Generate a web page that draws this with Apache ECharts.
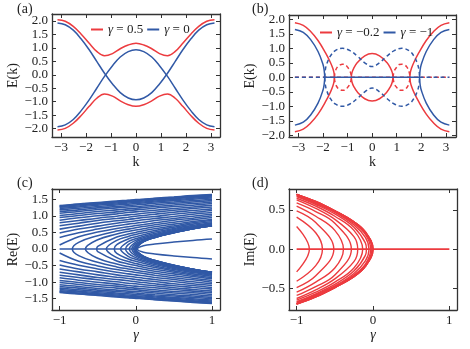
<!DOCTYPE html>
<html>
<head>
<meta charset="utf-8">
<script src="https://cdn.jsdelivr.net/npm/echarts@6/dist/echarts.min.js"></script>
<style>
  html, body { margin: 0; padding: 0; background: #fff; }
  #main { width: 470px; height: 349px; }
</style>
</head>
<body>
<div id="main"></div>
<script>
const SERIF = 'Liberation Serif';
const RED = '#ec3b3f';
const BLUE = '#3159a6';
const INK = '#222';

// ---------- (a) E(k), upper halves read at these k ----------
const kGrid = [-3.14, -2.83, -2.51, -2.20, -1.88, -1.57, -1.26, -0.94, -0.63, -0.31, 0,
               0.31, 0.63, 0.94, 1.26, 1.57, 1.88, 2.20, 2.51, 2.83, 3.14];
const aGamma0 = [-1.93, -1.86, -1.66, -1.34, -0.94, -0.50, -0.06, 0.34, 0.66, 0.86, 0.93,
                 0.86, 0.66, 0.34, -0.06, -0.50, -0.94, -1.34, -1.66, -1.86, -1.93];
const aGamma05 = [2.05, 1.99, 1.80, 1.52, 1.18, 0.87, 0.71, 0.79, 0.97, 1.11, 1.17,
                  1.11, 0.97, 0.79, 0.71, 0.87, 1.18, 1.52, 1.80, 1.99, 2.05];

// ---------- (b) E(k), [k, |E|] upper halves ----------
const bRedInner = [[-0.848, 0], [-0.82, 0.16], [-0.75, 0.31], [-0.6, 0.51], [-0.3, 0.74], [0, 0.82],
                   [0.3, 0.74], [0.6, 0.51], [0.75, 0.31], [0.82, 0.16], [0.848, 0]];
const bRedImL = [[-1.534, 0], [-1.5, 0.20], [-1.4, 0.37], [-1.3, 0.43], [-1.21, 0.45], [-1.1, 0.44],
                 [-1.0, 0.35], [-0.9, 0.22], [-0.848, 0]];
const bRedImR = [[0.848, 0], [0.9, 0.22], [1.0, 0.35], [1.1, 0.44], [1.21, 0.45], [1.3, 0.43],
                 [1.4, 0.37], [1.5, 0.20], [1.534, 0]];
const bRedOuterR = [[1.534, 0], [1.55, 0.15], [1.6, 0.31], [1.7, 0.52], [1.9, 0.85], [2.2, 1.27],
                    [2.5, 1.58], [2.8, 1.79], [3.14, 1.88]];
const bRedOuterL = [[-1.534, 0], [-1.55, 0.15], [-1.6, 0.31], [-1.7, 0.52], [-1.9, 0.85], [-2.2, 1.27],
                    [-2.5, 1.58], [-2.8, 1.79], [-3.14, 1.88]];
const bBlueOuterR = [[1.928, 0], [1.95, 0.24], [2.0, 0.45], [2.2, 0.89], [2.5, 1.30], [2.8, 1.55], [3.14, 1.65]];
const bBlueOuterL = [[-1.928, 0], [-1.95, 0.24], [-2.0, 0.45], [-2.2, 0.89], [-2.5, 1.30], [-2.8, 1.55], [-3.14, 1.65]];
const bBlueIm = [[-1.928, 0], [-1.9, 0.27], [-1.85, 0.45], [-1.7, 0.73], [-1.5, 0.92], [-1.21, 1.0],
                 [-0.9, 0.92], [-0.6, 0.73], [-0.3, 0.5], [0, 0.37], [0.3, 0.5], [0.6, 0.73],
                 [0.9, 0.92], [1.21, 1.0], [1.5, 0.92], [1.7, 0.73], [1.85, 0.45], [1.9, 0.27], [1.928, 0]];

// ---------- (c), (d) finite chain: |E| of each level read at these gamma ----------
const gGrid = [-1, -0.75, -0.5, -0.25, -0.1, 0, 0.1, 0.25, 0.5, 0.75, 1];
// gamma where a level turns from real (right) to imaginary (left); null = real everywhere
const levelVertex = [0, -0.0004, -0.002, -0.006, -0.014, -0.029, -0.052, -0.086, -0.135, -0.200,
                     -0.283, -0.387, -0.513, -0.662, -0.833,
                     null, null, null, null, null, null, null, null, null, null, null, null, null, null, null, null, null];
const levels = [
  [0.70, 0.61, 0.49, 0.35, 0.22, 0.00, 0.22, 0.35, 0.49, 0.61, 0.70],
  [0.70, 0.61, 0.49, 0.35, 0.22, 0.01, 0.22, 0.35, 0.49, 0.61, 0.70],
  [0.70, 0.61, 0.49, 0.35, 0.22, 0.03, 0.22, 0.35, 0.50, 0.61, 0.70],
  [0.70, 0.60, 0.49, 0.35, 0.21, 0.05, 0.23, 0.35, 0.50, 0.61, 0.70],
  [0.70, 0.60, 0.49, 0.34, 0.21, 0.08, 0.24, 0.36, 0.50, 0.61, 0.70],
  [0.69, 0.59, 0.48, 0.33, 0.19, 0.12, 0.25, 0.37, 0.51, 0.62, 0.71],
  [0.68, 0.58, 0.47, 0.31, 0.15, 0.16, 0.27, 0.38, 0.52, 0.63, 0.72],
  [0.67, 0.57, 0.45, 0.28, 0.08, 0.21, 0.30, 0.41, 0.54, 0.64, 0.73],
  [0.65, 0.55, 0.42, 0.24, 0.13, 0.26, 0.34, 0.43, 0.56, 0.66, 0.75],
  [0.63, 0.52, 0.38, 0.16, 0.22, 0.31, 0.38, 0.47, 0.59, 0.68, 0.77],
  [0.59, 0.48, 0.33, 0.13, 0.30, 0.37, 0.43, 0.51, 0.62, 0.71, 0.79],
  [0.55, 0.42, 0.24, 0.26, 0.38, 0.44, 0.49, 0.56, 0.66, 0.75, 0.82],
  [0.49, 0.34, 0.08, 0.36, 0.45, 0.50, 0.55, 0.61, 0.70, 0.79, 0.86],
  [0.41, 0.21, 0.28, 0.45, 0.53, 0.57, 0.61, 0.67, 0.75, 0.83, 0.90],
  [0.29, 0.20, 0.40, 0.54, 0.60, 0.64, 0.68, 0.73, 0.81, 0.88, 0.95],
  [0.12, 0.37, 0.51, 0.62, 0.67, 0.71, 0.74, 0.79, 0.87, 0.93, 1.00],
  [0.35, 0.49, 0.60, 0.70, 0.75, 0.78, 0.81, 0.86, 0.92, 0.99, 1.05],
  [0.48, 0.60, 0.69, 0.78, 0.82, 0.85, 0.88, 0.92, 0.98, 1.05, 1.10],
  [0.60, 0.69, 0.78, 0.85, 0.89, 0.92, 0.95, 0.98, 1.05, 1.10, 1.16],
  [0.70, 0.78, 0.86, 0.92, 0.96, 0.99, 1.01, 1.05, 1.11, 1.16, 1.21],
  [0.79, 0.86, 0.93, 0.99, 1.03, 1.05, 1.08, 1.11, 1.17, 1.22, 1.27],
  [0.87, 0.94, 1.00, 1.06, 1.10, 1.12, 1.14, 1.17, 1.22, 1.27, 1.32],
  [0.95, 1.01, 1.07, 1.12, 1.16, 1.18, 1.20, 1.23, 1.28, 1.32, 1.37],
  [1.01, 1.07, 1.13, 1.18, 1.21, 1.23, 1.25, 1.28, 1.33, 1.37, 1.42],
  [1.08, 1.13, 1.19, 1.24, 1.27, 1.28, 1.30, 1.33, 1.38, 1.42, 1.46],
  [1.13, 1.18, 1.24, 1.28, 1.31, 1.33, 1.35, 1.38, 1.42, 1.46, 1.50],
  [1.18, 1.23, 1.28, 1.33, 1.35, 1.37, 1.39, 1.42, 1.46, 1.50, 1.54],
  [1.22, 1.27, 1.32, 1.36, 1.39, 1.41, 1.42, 1.45, 1.49, 1.53, 1.57],
  [1.26, 1.30, 1.35, 1.39, 1.42, 1.44, 1.45, 1.48, 1.52, 1.56, 1.60],
  [1.28, 1.33, 1.37, 1.42, 1.44, 1.46, 1.48, 1.50, 1.54, 1.58, 1.62],
  [1.30, 1.35, 1.39, 1.43, 1.46, 1.48, 1.49, 1.52, 1.56, 1.60, 1.63],
  [1.31, 1.36, 1.40, 1.45, 1.47, 1.49, 1.50, 1.53, 1.57, 1.61, 1.64]
];
// edge pair in (c), gamma > 0
const edgeVertex = 0.02;
const edgeGamma = [0.1, 0.25, 0.5, 0.75, 1];
const edgeRe = [0.10, 0.15, 0.21, 0.26, 0.30];

// tick labels
const kTicks = [-3, -2, -1, 0, 1, 2, 3];
const eTicks = [-2, -1.5, -1, -0.5, 0, 0.5, 1, 1.5, 2];
const gTicks = [-1, 0, 1];
const reTicks = [-1.5, -1, -0.5, 0, 0.5, 1, 1.5];
const imTicks = [-0.5, 0, 0.5];

// ---------- helpers ----------
const flip = pts => pts.map(p => [p[0], -p[1]]);
// closed loop: upper half (vertex to vertex) then lower half back
const loop = up => up.concat(flip(up).reverse().slice(1));
// "(" shape: upper half starts at the vertex
const through = up => flip(up).reverse().concat(up.slice(1));

const fmt = d => v => (v < 0 ? '\u2212' : '') + Math.abs(v).toFixed(d);

const xAxes = [], yAxes = [], grids = [];
function panel(box, xr, yr, xt, yt, xd, yd, xName, yName) {
  grids.push(box);
  const gi = grids.length - 1;
  const tick = vals => ({ show: true, inside: true, length: 4, customValues: vals,
                          lineStyle: { color: '#333', width: 1 } });
  const line = { show: true, onZero: false, lineStyle: { color: '#333', width: 1.3 } };
  const lab = (vals, d) => ({ show: true, customValues: vals, formatter: fmt(d), color: INK,
                              fontFamily: SERIF, fontSize: 13, margin: 4 });
  const nameStyle = { fontFamily: SERIF, fontSize: 14, color: INK };
  xAxes.push({ type: 'value', gridIndex: gi, position: 'bottom', min: xr[0], max: xr[1],
               axisLine: line, axisTick: tick(xt), axisLabel: lab(xt, xd), splitLine: { show: false },
               name: xName, nameLocation: 'middle', nameGap: 17,
               nameTextStyle: Object.assign({}, nameStyle, xName === 'γ' ? { fontStyle: 'italic' } : {}) });
  xAxes.push({ type: 'value', gridIndex: gi, position: 'top', min: xr[0], max: xr[1],
               axisLine: line, axisTick: tick(xt), axisLabel: { show: false }, splitLine: { show: false } });
  yAxes.push({ type: 'value', gridIndex: gi, position: 'left', min: yr[0], max: yr[1],
               axisLine: line, axisTick: tick(yt), axisLabel: lab(yt, yd), splitLine: { show: false },
               name: yName, nameLocation: 'middle', nameGap: 26, nameTextStyle: nameStyle });
  yAxes.push({ type: 'value', gridIndex: gi, position: 'right', min: yr[0], max: yr[1],
               axisLine: line, axisTick: tick(yt), axisLabel: { show: false }, splitLine: { show: false } });
  return 2 * gi;
}

const series = [];
function add(ax, data, color, opts) {
  opts = opts || {};
  series.push({
    type: 'line', name: opts.name, xAxisIndex: ax, yAxisIndex: ax, data: data,
    showSymbol: false, symbol: 'none', smooth: opts.smooth === undefined ? 0.4 : opts.smooth,
    itemStyle: { color: color },
    lineStyle: { color: color, width: opts.width || 1.5, type: opts.dash ? [4, 3] : 'solid' },
    z: opts.z || 2, silent: true
  });
}

// ---------- (a) ----------
const A = panel({ left: 52, top: 14, width: 168, height: 123 }, [-3.36, 3.36], [-2.31, 2.26],
                kTicks, eTicks, 0, 1, 'k', 'E(k)');
add(A, kGrid.map((k, i) => [k, aGamma05[i]]), RED, { name: 'γ = 0.5' });
add(A, kGrid.map((k, i) => [k, -aGamma05[i]]), RED, { name: 'γ = 0.5' });
add(A, kGrid.map((k, i) => [k, aGamma0[i]]), BLUE, { name: 'γ = 0' });
add(A, kGrid.map((k, i) => [k, -aGamma0[i]]), BLUE, { name: 'γ = 0' });

// ---------- (b) ----------
const B = panel({ left: 289, top: 15, width: 167, height: 122 }, [-3.38, 3.41], [-2.06, 2.15],
                kTicks, eTicks, 0, 1, 'k', 'E(k)');
add(B, through(bRedOuterL), RED, { name: 'γ = \u22120.2' });
add(B, through(bRedOuterR), RED, { name: 'γ = \u22120.2' });
add(B, loop(bRedInner), RED, { name: 'γ = \u22120.2' });
add(B, loop(bRedImL), RED, { name: 'γ = \u22120.2', dash: true });
add(B, loop(bRedImR), RED, { name: 'γ = \u22120.2', dash: true });
add(B, [[-3.14, 0], [3.14, 0]], RED, { name: 'γ = \u22120.2', dash: true, smooth: false });
add(B, through(bBlueOuterL), BLUE, { name: 'γ = \u22121' });
add(B, through(bBlueOuterR), BLUE, { name: 'γ = \u22121' });
add(B, loop(bBlueIm), BLUE, { name: 'γ = \u22121', dash: true });
add(B, [[-3.14, 0], [-1.928, 0]], BLUE, { name: 'γ = \u22121', dash: true, smooth: false });
add(B, [[1.928, 0], [3.14, 0]], BLUE, { name: 'γ = \u22121', dash: true, smooth: false });
add(B, [[-1.928, 0], [1.928, 0]], BLUE, { name: 'γ = \u22121', smooth: false, z: 3 });

// ---------- (c) Re(E) and (d) Im(E) ----------
const C = panel({ left: 52, top: 189, width: 168, height: 121 }, [-1.1, 1.105], [-1.84, 1.81],
                gTicks, reTicks, 0, 1, 'γ', 'Re(E)');
const D = panel({ left: 289, top: 189, width: 168, height: 121 }, [-1.1, 1.1], [-0.777, 0.768],
                gTicks, imTicks, 0, 1, 'γ', 'Im(E)');

const LW = 1.55;
add(C, [[-1, 0], [0, 0]], BLUE, { width: 1.7, smooth: false });
add(D, [[-1, 0], [1, 0]], RED, { width: 1.7, smooth: false });
levels.forEach((lv, i) => {
  const v = levelVertex[i];
  const pts = gGrid.map((g, j) => [g, lv[j]]);
  if (v === null) {
    add(C, pts, BLUE, { width: LW });
    add(C, flip(pts), BLUE, { width: LW });
    return;
  }
  const re = [[v, 0]].concat(pts.filter(p => p[0] > v));
  const im = pts.filter(p => p[0] < v).concat([[v, 0]]);
  add(C, through(re), BLUE, { width: LW });
  add(D, im.concat(flip(im).reverse().slice(1)), RED, { width: 1.4 });
});
add(C, through([[edgeVertex, 0]].concat(edgeGamma.map((g, j) => [g, edgeRe[j]]))), BLUE, { width: 1.5 });

const chart = echarts.init(document.getElementById('main'), null, { renderer: 'canvas' });
chart.setOption({
  animation: false,
  backgroundColor: '#fff',
  title: [
    { text: '(a)', left: 15, top: 0 },
    { text: '(b)', left: 250, top: 0 },
    { text: '(c)', left: 15, top: 174 },
    { text: '(d)', left: 250, top: 174 }
  ].map(t => Object.assign(t, { padding: 2, textStyle: { fontFamily: SERIF, fontSize: 14, fontWeight: 'normal', color: INK } })),
  legend: [
    { data: ['γ = 0.5', 'γ = 0'], left: 91, top: 23 },
    { data: ['γ = \u22120.2', 'γ = \u22121'], left: 320, top: 26 }
  ].map(l => Object.assign(l, {
    icon: 'rect', itemWidth: 12, itemHeight: 2, itemGap: 4, padding: 0, selectedMode: false,
    formatter: n => n.replace('γ', '{i|γ}'),
    textStyle: { fontFamily: SERIF, fontSize: 13, color: INK, rich: { i: { fontStyle: 'italic', fontFamily: SERIF, fontSize: 13 } } }
  })),
  grid: grids,
  xAxis: xAxes,
  yAxis: yAxes,
  series: series
});
</script>
</body>
</html>
